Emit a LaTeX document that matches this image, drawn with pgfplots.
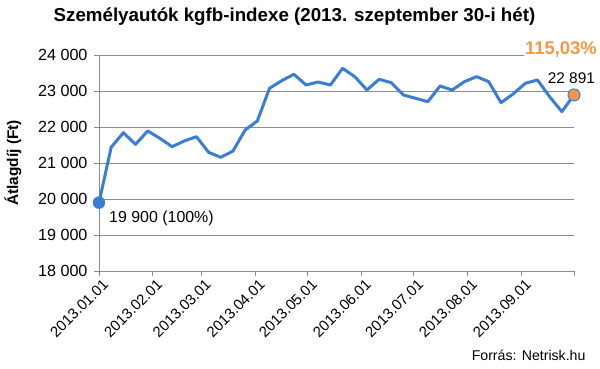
\documentclass[border=0pt]{standalone}
\usepackage{pgfplots}
\pgfplotsset{compat=1.18}
\usepackage{fontspec}
\setmainfont{Liberation Sans}
\definecolor{lineblue}{RGB}{58,125,210}
\definecolor{gridgray}{RGB}{140,140,140}
\definecolor{orng}{RGB}{247,150,70}
\begin{document}
\begin{tikzpicture}[x=1bp,y=1bp]
\useasboundingbox (0,0) rectangle (600,368);
\node[font=\fontsize{18.8}{20}\selectfont\bfseries] at (294.5,351) {Személyautók kgfb-indexe (2013. szeptember 30-i hét)};
\node[font=\fontsize{14.2}{16}\selectfont, anchor=east] at (589,13) {Forrás: Netrisk.hu};
\begin{axis}[
  at={(99bp,97bp)}, anchor=south west,
  scale only axis, width=475bp, height=216bp,
  xmin=0, xmax=273, ymin=18000, ymax=24000,
  scaled y ticks=false,
  xtick={0,31,59,90,120,151,181,212,243,273},
  xticklabels={2013.01.01,2013.02.01,2013.03.01,2013.04.01,2013.05.01,2013.06.01,2013.07.01,2013.08.01,2013.09.01,{}},
  ytick={18000,19000,20000,21000,22000,23000,24000},
  yticklabels={18 000,19 000,20 000,21 000,22 000,23 000,24 000},
  ymajorgrids, grid style={gridgray, line width=0.9bp},
  axis x line*=bottom, axis y line*=left,
  axis line style={gridgray, line width=0.9bp},
  tick style={gridgray, line width=0.9bp},
  tick align=outside, major tick length=5bp,
  x tick label style={rotate=45, anchor=north east, xshift=4bp, font=\fontsize{15}{17}\selectfont},
  y tick label style={font=\fontsize{16.2}{17}\selectfont, xshift=-3bp},
  ylabel={\bfseries Átlagdíj (Ft)},
  ylabel style={at={(axis description cs:-0.181,0.5)}, anchor=center, font=\fontsize{15.5}{17}\selectfont},
  /pgf/number format/assume math mode=true,
  clip=false,
]
\addplot[lineblue, line width=3bp, line join=round] coordinates {
(0,19900) (7,21436) (14,21842) (21,21519) (28,21889) (35,21686) (42,21453) (49,21611)
(56,21731) (63,21297) (70,21158) (77,21333) (84,21917) (91,22167) (98,23075) (105,23286)
(112,23464) (119,23167) (126,23250) (133,23167) (140,23630) (147,23398) (154,23028) (161,23325)
(168,23231) (175,22889) (182,22796) (189,22703) (196,23139) (203,23028) (210,23259) (217,23398)
(224,23259) (231,22676) (238,22917) (245,23213) (252,23306) (259,22842) (266,22425) (273,22891)
};
\addplot[only marks, mark=*, mark size=6bp, color=lineblue, fill=lineblue] coordinates {(0,19900)};
\addplot[only marks, mark=*, mark size=6bp, draw=lineblue, fill=orng, line width=1bp] coordinates {(273,22891)};
\node[font=\fontsize{16}{18}\selectfont] at (axis cs:35.9,19472) {19 900 (100\%)};
\node[font=\fontsize{15.5}{18}\selectfont] at (axis cs:271.5,23361) {22 891};
\node[font=\fontsize{18.5}{20}\selectfont\bfseries, text=orng, fill=white, inner sep=1bp] at (axis cs:265.5,24150) {115,03\%};
\end{axis}
\end{tikzpicture}
\end{document}
